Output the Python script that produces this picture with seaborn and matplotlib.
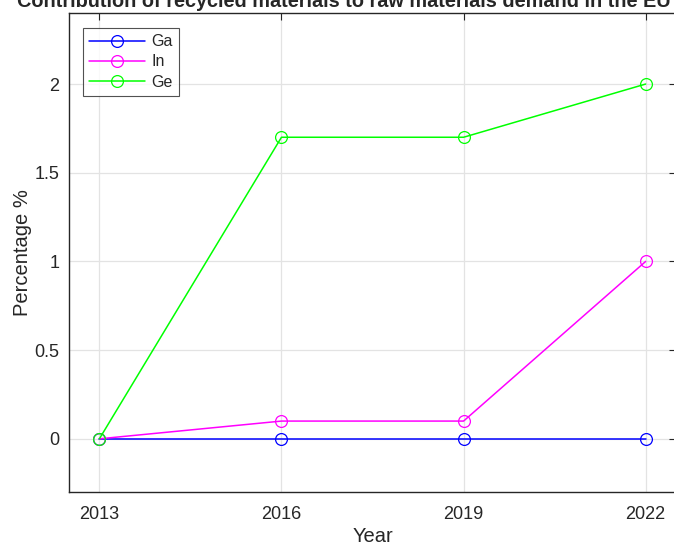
import pandas as pd
import matplotlib
matplotlib.use("Agg")
import matplotlib.pyplot as plt
import seaborn as sns

# data
years = [2013, 2016, 2019, 2022]
ga = [0, 0, 0, 0]
in_ = [0, 0.1, 0.1, 1]
ge = [0, 1.7, 1.7, 2]
materials = ["Ga", "In", "Ge"]
colors = ["#0000ff", "#ff00ff", "#00ff00"]

df = pd.DataFrame({
    "Year": years * 3,
    "Percentage": ga + in_ + ge,
    "Material": [m for m in materials for _ in years],
})

sns.set_style("white")
plt.rcParams["font.family"] = ["Liberation Sans", "DejaVu Sans"]

fig = plt.figure(figsize=(6.74, 5.45), dpi=100)
ax_left, ax_w = 0.1024, 0.9006
ax = fig.add_axes([ax_left, 0.0972, ax_w, 0.8788])

for m, c in zip(materials, colors):
    sns.lineplot(data=df[df["Material"] == m], x="Year", y="Percentage",
                 color=c, marker="o", markersize=8.5, markerfacecolor="none",
                 markeredgecolor=c, markeredgewidth=0.9, linewidth=1.1,
                 label=m, ax=ax)

ax.set_xlim(2012.5, 2022.5)
ax.set_ylim(-0.3, 2.4)
ax.set_xticks(years)
ax.set_yticks([0, 0.5, 1, 1.5, 2])
ax.set_yticklabels(["0", "0.5", "1", "1.5", "2"])
ax.grid(True, color="#e3e3e3", linewidth=0.9)
ax.set_axisbelow(True)
ax.tick_params(direction="in", length=5, width=0.8, colors="#262626",
               labelsize=13, top=True, right=True, pad=7)
ax.tick_params(axis="x", pad=10)
for s in ax.spines.values():
    s.set_color("#262626")
    s.set_linewidth(1.0)
ax.set_xlabel("Year", fontsize=14.5, color="#262626", labelpad=3)
ax.set_ylabel("Percentage %", fontsize=14.5, color="#262626", labelpad=2)

leg = ax.legend(loc="upper left", fontsize=11.5,
                frameon=True, fancybox=False, edgecolor="#262626",
                handlelength=3.5, handletextpad=0.4, borderpad=0.4,
                labelspacing=0.32, borderaxespad=0.0)
leg.set_bbox_to_anchor((83 / 674, 1 - 28 / 545), transform=fig.transFigure)
leg.get_frame().set_linewidth(0.8)

fig.text(344 / 674, 0.987,
         "Contribution of recycled materials to raw materials demand in the EU",
         ha="center", va="baseline", fontsize=14.3, fontweight="bold")

fig.savefig("out.png", dpi=100)
